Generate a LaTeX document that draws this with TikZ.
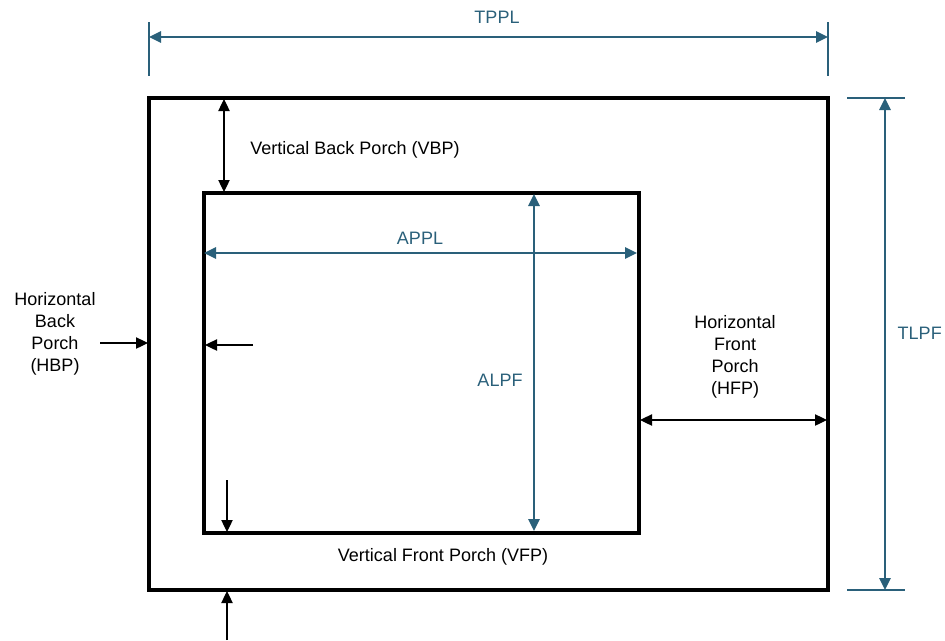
\documentclass[tikz,border=0pt]{standalone}
\usepackage{fontspec}
\setmainfont{Liberation Sans}
\usetikzlibrary{arrows.meta}
\definecolor{dimteal}{RGB}{42,96,122}

\begin{document}
\begin{tikzpicture}[x=0.75pt, y=-0.75pt, font=\fontsize{13.5}{16.5}\selectfont,
    >={Triangle[length=9pt, width=8.5pt]},
    frame/.style = {line width=2.3pt},
    porch/.style = {line width=0.9pt},
    dim/.style = {line width=1.3pt, dimteal, <->},
    ext/.style = {line width=1.3pt, dimteal},
    lbl/.style = {inner sep=0pt, align=center}]
        \useasboundingbox (0,0) rectangle (945,640);

        % panels
        \draw[frame] (149,98) rectangle (828,590);
        \draw[frame] (204,193) rectangle (639,533);

        % total dimensions
        \draw[ext] (149,22) -- (149,76);
        \draw[ext] (828,22) -- (828,76);
        \draw[dim] (149,37) -- (828,37);
        \node[lbl, dimteal] (tppl) at (497,17) {TPPL};

        \draw[ext] (847,98) -- (905,98);
        \draw[ext] (847,590) -- (905,590);
        \draw[dim] (885,98) -- (885,590);
        \node[lbl, dimteal, anchor=east] (tlpf) at (942,333) {TLPF};

        % active dimensions
        \draw[dim] (204,253) -- (637,253);
        \node[lbl, dimteal] (appl) at (420,238) {APPL};
        \draw[dim] (534,194) -- (534,531);
        \node[lbl, dimteal] (alpf) at (500,380) {ALPF};

        % porches
        \draw[porch, <->] (224,99) -- (224,192);
        \node[lbl] (vbp) at (355,150) {Vertical Back Porch (VBP)};

        \draw[porch, ->] (100,343) -- (148,343);
        \draw[porch, ->] (253,345) -- (205,345);
        \node[lbl] (hbp) at (55,334) {Horizontal\\Back\\Porch\\(HBP)};

        \draw[porch, <->] (640,420) -- (827,420);
        \node[lbl] (hfp) at (735,357) {Horizontal\\Front\\Porch\\(HFP)};

        \draw[porch, ->] (227,480) -- (227,532);
        \draw[porch, ->] (227,640) -- (227,591);
        \node[lbl] (vfp) at (443,557) {Vertical Front Porch (VFP)};
\end{tikzpicture}
\end{document}
